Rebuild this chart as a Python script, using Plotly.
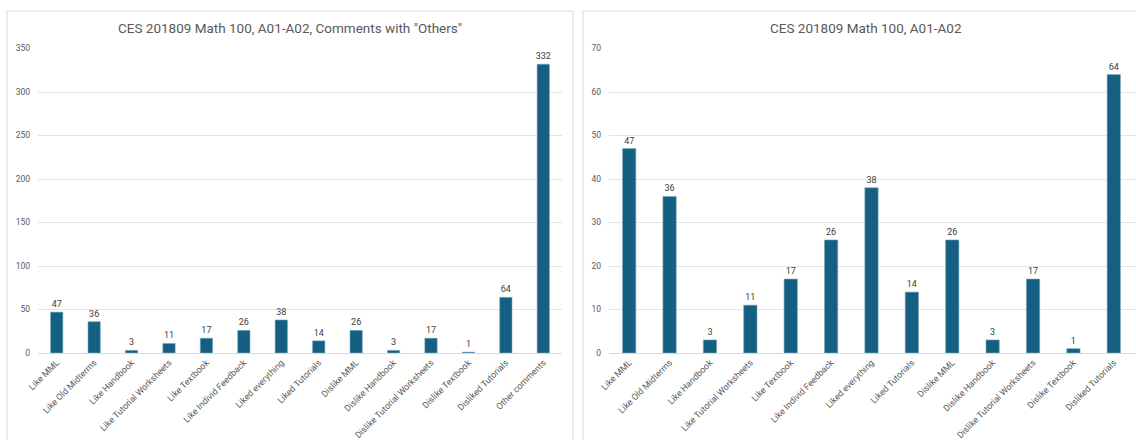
import plotly.graph_objects as go

# Comment counts, CES 201809 Math 100 sections A01-A02
categories_all = [
    "Like MML", "Like Old Midterms", "Like Handbook", "Like Tutorial Worksheets",
    "Like Textbook", "Like Individ Feedback", "Liked everything", "Liked Tutorials",
    "Dislike MML", "Dislike Handbook", "Dislike Tutorial Worksheets",
    "Dislike Textbook", "Disliked Tutorials", "Other comments",
]
counts_all = [47, 36, 3, 11, 17, 26, 38, 14, 26, 3, 17, 1, 64, 332]

categories = categories_all[:-1]
counts = counts_all[:-1]

title_left = 'CES 201809 Math 100, A01-A02, Comments with "Others"'
title_right = "CES 201809 Math 100, A01-A02"

W, H = 1136, 440
BAR = "#156082"
TXT = "#595959"
GRID = "#e4e4e4"
FONT = "Roboto"


def px(x):
    return x / W


def py(y):
    return 1 - y / H


fig = go.Figure()

bar_style = dict(
    marker=dict(color=BAR, line=dict(color="#7fa9be", width=0.6)),
    width=0.33, textposition="outside", constraintext="none",
    textfont=dict(size=9, color="#404040", family=FONT),
    cliponaxis=False, hoverinfo="x+y",
)
fig.add_trace(go.Bar(x=categories_all, y=counts_all, text=counts_all,
                     xaxis="x", yaxis="y", **bar_style))
fig.add_trace(go.Bar(x=categories, y=counts, text=counts,
                     xaxis="x2", yaxis="y2", **bar_style))

ydom = [py(353), py(48.5)]
common_x = dict(
    type="category", tickangle=-45, showgrid=False, ticks="", automargin=False,
    tickfont=dict(size=8.9, color=TXT, family=FONT),
    showline=True, linecolor="#d9d9d9", linewidth=1,
)
common_y = dict(
    showgrid=True, gridcolor=GRID, gridwidth=1, zeroline=False, automargin=False,
    tickfont=dict(size=8.5, color=TXT, family=FONT), ticks="",
    showline=False, ticklabelstandoff=7,
)

fig.update_layout(
    width=W, height=H,
    margin=dict(l=0, r=0, t=0, b=0, autoexpand=False),
    paper_bgcolor="white", plot_bgcolor="white",
    showlegend=False,
    font=dict(family=FONT, color=TXT),
    xaxis=dict(domain=[px(38), px(562)], range=[-0.5, 13.5], anchor="y", **common_x),
    yaxis=dict(domain=ydom, range=[0, 350], dtick=50, anchor="x", **common_y),
    xaxis2=dict(domain=[px(609), 1], range=[-0.5, 12.55], anchor="y2", **common_x),
    yaxis2=dict(domain=ydom, range=[0, 70], dtick=10, anchor="x2", **common_y),
    shapes=[
        dict(type="rect", xref="paper", yref="paper",
             x0=px(7), x1=px(573), y0=-0.05, y1=py(11),
             line=dict(color="#d9d9d9", width=1), fillcolor="rgba(0,0,0,0)", layer="below"),
        dict(type="rect", xref="paper", yref="paper",
             x0=px(583), x1=1.05, y0=-0.05, y1=py(11),
             line=dict(color="#d9d9d9", width=1), fillcolor="rgba(0,0,0,0)", layer="below"),
    ],
    annotations=[
        dict(text=title_left, xref="paper", yref="paper", x=px(290), y=py(28),
             showarrow=False, xanchor="center", yanchor="middle",
             font=dict(size=13.5, color=TXT, family=FONT)),
        dict(text=title_right, xref="paper", yref="paper", x=px(866), y=py(28),
             showarrow=False, xanchor="center", yanchor="middle",
             font=dict(size=13.5, color=TXT, family=FONT)),
    ],
)

fig.write_html("out.html")
